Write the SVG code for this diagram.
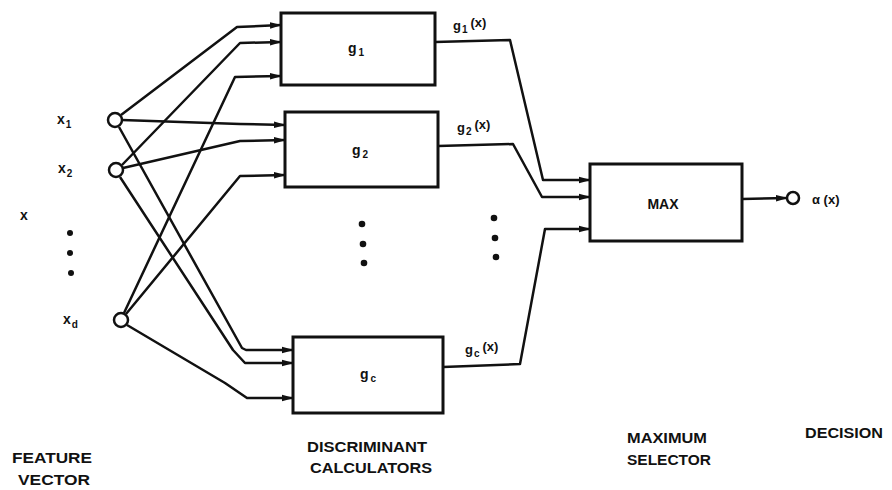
<svg xmlns="http://www.w3.org/2000/svg" width="892" height="490" viewBox="0 0 892 490">
<defs>
<marker id="ah" markerWidth="12" markerHeight="8" refX="11" refY="4" orient="auto" markerUnits="userSpaceOnUse">
<path d="M0,0.8 L12,4 L0,7.2 Z" fill="#111"/>
</marker>
<style>
.box{fill:#fff;stroke:#111;stroke-width:3}
.node{fill:#fff;stroke:#111;stroke-width:2.5}
.ln{fill:none;stroke:#111;stroke-width:2.5;stroke-linejoin:round}
.ar{marker-end:url(#ah)}
.t{font-family:"Liberation Sans",Arial,sans-serif;font-weight:bold;fill:#111}
.cap{font-size:14px}
.lab{font-size:14px}
.sub{font-size:10px}
.olab{font-size:13px}
.dot{fill:#111}
</style>
</defs>
<rect width="892" height="490" fill="#fff"/>

<g id="connectors">
<!-- to g1 -->
<path class="ln ar" d="M121,115 L237,27 L281,25"/>
<path class="ln ar" d="M122,165 L240,43 L281,42"/>
<path class="ln ar" d="M124,313 L235,77 L281,76"/>
<!-- to g2 -->
<path class="ln ar" d="M122,120 L240,124 L285,125"/>
<path class="ln ar" d="M123,168 L240,141 L285,140"/>
<path class="ln ar" d="M126,314 L240,176 L285,175"/>
<!-- to gc -->
<path class="ln ar" d="M119,127 L242,348 L246,350 L293,350"/>
<path class="ln ar" d="M120,177 L233,350 L245,363 L293,363"/>
<path class="ln ar" d="M127,325 L225,383 L247,398 L293,398"/>
<!-- outputs -->
<path class="ln ar" d="M435,42 L510,40 L543,180 L590,180"/>
<path class="ln ar" d="M438,146 L513,144 L542,197 L590,197"/>
<path class="ln ar" d="M443,367 L520,364 L545,229 L590,229"/>
<path class="ln ar" d="M742,199 L787,198"/>
</g>

<g id="x1"><circle class="node" cx="115" cy="120" r="7"/><text class="t lab" x="57" y="124">x<tspan class="sub" dy="4" dx="1">1</tspan></text></g>
<g id="x2"><circle class="node" cx="116" cy="170" r="7"/><text class="t lab" x="58" y="173">x<tspan class="sub" dy="4" dx="1">2</tspan></text></g>
<g id="xd"><circle class="node" cx="121" cy="320" r="7"/><text class="t lab" x="63" y="324">x<tspan class="sub" dy="4" dx="1">d</tspan></text></g>
<g id="xvec"><text class="t lab" x="20" y="220">x</text>
<circle class="dot" cx="70" cy="233" r="3"/><circle class="dot" cx="70" cy="253" r="3"/><circle class="dot" cx="71" cy="273" r="3"/></g>

<g id="g1"><rect class="box" x="281" y="13" width="154" height="72"/><text class="t lab" x="348" y="53">g<tspan class="sub" dy="3" dx="2">1</tspan></text></g>
<g id="g2"><rect class="box" x="285" y="112" width="153" height="75"/><text class="t lab" x="352" y="155">g<tspan class="sub" dy="3" dx="2">2</tspan></text></g>
<g id="gc"><rect class="box" x="293" y="337" width="150" height="76"/><text class="t lab" x="360" y="379">g<tspan class="sub" dy="3" dx="2">c</tspan></text></g>
<g id="dots-mid"><circle class="dot" cx="362" cy="224" r="3.3"/><circle class="dot" cx="363" cy="244" r="3.3"/><circle class="dot" cx="364" cy="263" r="3.3"/></g>
<g id="dots-right"><circle class="dot" cx="494" cy="218" r="3.3"/><circle class="dot" cx="495" cy="238" r="3.3"/><circle class="dot" cx="496" cy="257" r="3.3"/></g>

<g id="out-labels">
<text class="t olab" x="453" y="30">g<tspan dy="3" dx="1" style="font-size:10px">1</tspan><tspan dy="-6" dx="3">(x)</tspan></text>
<text class="t olab" x="457" y="132">g<tspan dy="3" dx="1" style="font-size:10px">2</tspan><tspan dy="-6" dx="3">(x)</tspan></text>
<text class="t olab" x="465" y="354">g<tspan dy="3" dx="1" style="font-size:10px">c</tspan><tspan dy="-6" dx="3">(x)</tspan></text>
</g>

<g id="max"><rect class="box" x="590" y="164" width="152" height="77"/><text class="t lab" x="663" y="209" text-anchor="middle">MAX</text></g>
<g id="decision"><circle class="node" cx="793" cy="198" r="6"/><text class="t lab" x="812" y="204" style="font-size:13px">α (x)</text></g>

<g id="captions">
<text class="t cap" x="12" y="463" textLength="80" lengthAdjust="spacingAndGlyphs">FEATURE</text>
<text class="t cap" x="18" y="485" textLength="72" lengthAdjust="spacingAndGlyphs">VECTOR</text>
<text class="t cap" x="307" y="452" textLength="120" lengthAdjust="spacingAndGlyphs">DISCRIMINANT</text>
<text class="t cap" x="310" y="473" textLength="122" lengthAdjust="spacingAndGlyphs">CALCULATORS</text>
<text class="t cap" x="627" y="443" textLength="80" lengthAdjust="spacingAndGlyphs">MAXIMUM</text>
<text class="t cap" x="627" y="465" textLength="84" lengthAdjust="spacingAndGlyphs">SELECTOR</text>
<text class="t cap" x="805" y="438" textLength="78" lengthAdjust="spacingAndGlyphs">DECISION</text>
</g>
</svg>
